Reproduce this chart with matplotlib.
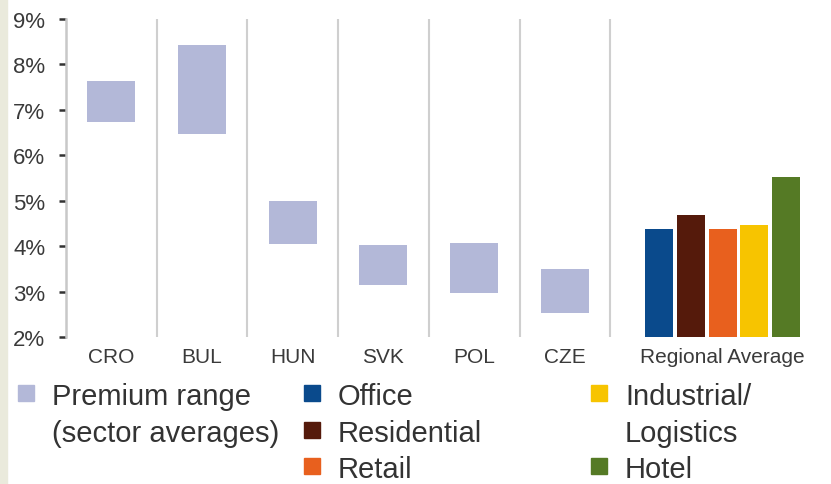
import matplotlib.pyplot as plt
from matplotlib.patches import Rectangle

countries = ['CRO', 'BUL', 'HUN', 'SVK', 'POL', 'CZE']
range_low = [6.73, 6.47, 4.04, 3.14, 2.97, 2.52]
range_high = [7.63, 8.43, 5.00, 4.02, 4.07, 3.50]

sectors = ['Office', 'Residential', 'Retail', 'Industrial/\nLogistics', 'Hotel']
regional_avg = [4.37, 4.68, 4.37, 4.46, 5.52]
sector_colors = ['#0a4a8c', '#551a0b', '#e8601e', '#f7c400', '#557a25']
range_color = '#b3b8d8'

yticks = [2, 3, 4, 5, 6, 7, 8, 9]

fig = plt.figure(figsize=(8.31, 4.85), dpi=100)
fig.patches.append(Rectangle((0, 0), 7 / 831, 1, transform=fig.transFigure,
                             color='#eaeadc', zorder=0))

ax = fig.add_axes([66 / 831, 1 - 338 / 485, 754 / 831, 318 / 485])
ax.set_xlim(0, 754 / 90.7)
ax.set_ylim(2, 9)

# premium ranges per country
xc = [i + 0.5 for i in range(len(countries))]
ax.bar(xc, [h - l for h, l in zip(range_high, range_low)], bottom=range_low,
       width=0.53, color=range_color, zorder=2)

# separators
for i in range(1, len(countries) + 1):
    ax.axvline(i, color='#cfcfcf', lw=1.5, zorder=1)

# regional averages
reg_x = [6.54 + 0.35 * i for i in range(len(sectors))]
ax.bar(reg_x, [v - 2 for v in regional_avg], bottom=2, width=0.31,
       color=sector_colors, zorder=2)

tfont = ['Liberation Sans', 'DejaVu Sans']
ax.set_xticks(xc + [reg_x[2]])
ax.set_xticklabels(countries + ['Regional Average'])
ax.tick_params(axis='x', length=0, pad=7, labelsize=15, labelcolor='#3a3a3a')
ax.set_yticks(yticks)
ax.set_yticklabels([f'{v}%' for v in yticks])
ax.tick_params(axis='y', length=5, width=1.8, color='#333333', pad=10,
               labelsize=16, labelcolor='#3a3a3a')
for lab in ax.get_xticklabels() + ax.get_yticklabels():
    lab.set_family(tfont)

for s in ['top', 'right', 'bottom']:
    ax.spines[s].set_visible(False)
ax.spines['left'].set_color('#c8c8c8')
ax.spines['left'].set_linewidth(1.8)

# legend, laid out by hand
legend_items = [
    ('Premium range\n(sector averages)', range_color, 18, 394),
    (sectors[0], sector_colors[0], 304, 394),
    (sectors[1], sector_colors[1], 304, 431),
    (sectors[2], sector_colors[2], 304, 467),
    (sectors[3], sector_colors[3], 591, 394),
    (sectors[4], sector_colors[4], 591, 467),
]
for label, col, px, py in legend_items:
    fig.patches.append(Rectangle((px / 831, 1 - (py + 8) / 485), 16 / 831, 16 / 485,
                                 transform=fig.transFigure, color=col))
    lines = label.split('\n')
    for k, line in enumerate(lines):
        fig.text((px + 34) / 831, 1 - (py + 37 * k) / 485, line, ha='left',
                 va='center_baseline', fontsize=21, color='#333333', family=tfont)

plt.savefig('out.png', dpi=100)
